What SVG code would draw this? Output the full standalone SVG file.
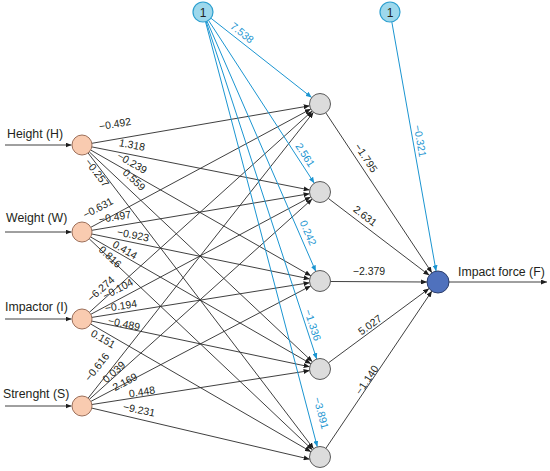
<svg xmlns="http://www.w3.org/2000/svg" width="550" height="471" viewBox="0 0 550 471">
<defs>
<marker id="ab" markerUnits="userSpaceOnUse" viewBox="0 0 6 5" refX="6" refY="2.5" markerWidth="6" markerHeight="5" orient="auto"><path d="M0,0 L6,2.5 L0,5 Z" fill="#1e1e1e"/></marker>
<marker id="au" markerUnits="userSpaceOnUse" viewBox="0 0 6 5" refX="6" refY="2.5" markerWidth="6" markerHeight="5" orient="auto"><path d="M0,0 L6,2.5 L0,5 Z" fill="#1b95d1"/></marker>
<style>
.k{stroke:#2a2a2a;stroke-width:0.9;fill:none;marker-end:url(#ab)}
.b{stroke:#1b95d1;stroke-width:1;fill:none;marker-end:url(#au)}
text{font-family:"Liberation Sans",Arial,sans-serif;fill:#231f20}
.w{font-size:10.5px;text-anchor:middle}
.wb{font-size:10.5px;text-anchor:middle;fill:#1b95d1}
.lab{font-size:12.3px}
.in{fill:#f9cbb0;stroke:#9c6f5a;stroke-width:1}
.hid{fill:#dcdcdc;stroke:#5a5a5a;stroke-width:1}
.out{fill:#4f71bd;stroke:#2c3e6a;stroke-width:1}
.bias{fill:#9dd8ec;stroke:#2c9fcf;stroke-width:1.2}
</style>
</defs>
<g id="connectors">
<line class="k" x1="5" y1="145" x2="71.5" y2="145"/>
<line class="k" x1="5" y1="232" x2="71.5" y2="232"/>
<line class="k" x1="5" y1="319" x2="71.5" y2="319"/>
<line class="k" x1="5" y1="406" x2="71.5" y2="406"/>
<line class="k" x1="91.9" y1="143.3" x2="309.7" y2="105.8"/>
<line class="k" x1="91.8" y1="146.9" x2="309.7" y2="190.0"/>
<line class="k" x1="90.7" y1="150.0" x2="310.9" y2="275.8"/>
<line class="k" x1="89.3" y1="151.9" x2="312.4" y2="361.8"/>
<line class="k" x1="88.1" y1="153.0" x2="313.6" y2="448.7"/>
<line class="k" x1="90.8" y1="227.3" x2="310.8" y2="109.0"/>
<line class="k" x1="91.9" y1="230.3" x2="309.6" y2="193.7"/>
<line class="k" x1="91.8" y1="234.0" x2="309.7" y2="278.9"/>
<line class="k" x1="90.7" y1="237.0" x2="310.9" y2="363.8"/>
<line class="k" x1="89.3" y1="238.9" x2="312.4" y2="449.8"/>
<line class="k" x1="89.4" y1="312.3" x2="312.2" y2="111.0"/>
<line class="k" x1="90.8" y1="314.3" x2="310.7" y2="196.9"/>
<line class="k" x1="91.9" y1="317.4" x2="309.6" y2="282.7"/>
<line class="k" x1="91.8" y1="321.1" x2="309.7" y2="366.8"/>
<line class="k" x1="90.7" y1="324.0" x2="310.9" y2="451.7"/>
<line class="k" x1="88.2" y1="398.1" x2="313.5" y2="112.2"/>
<line class="k" x1="89.4" y1="399.3" x2="312.2" y2="199.0"/>
<line class="k" x1="90.9" y1="401.4" x2="310.7" y2="285.9"/>
<line class="k" x1="91.9" y1="404.5" x2="309.6" y2="370.6"/>
<line class="k" x1="91.8" y1="408.1" x2="309.7" y2="459.2"/>
<line class="b" x1="210.9" y1="18.2" x2="311.7" y2="97.5"/>
<line class="b" x1="208.5" y1="20.4" x2="314.3" y2="183.2"/>
<line class="b" x1="207.0" y1="21.2" x2="315.8" y2="271.4"/>
<line class="b" x1="206.1" y1="21.5" x2="316.7" y2="359.0"/>
<line class="b" x1="205.5" y1="21.7" x2="317.3" y2="446.8"/>
<line class="b" x1="391.8" y1="21.8" x2="436.1" y2="271.2"/>
<line class="k" x1="325.8" y1="112.8" x2="431.9" y2="272.8"/>
<line class="k" x1="328.3" y1="198.4" x2="429.3" y2="275.3"/>
<line class="k" x1="330.5" y1="281.5" x2="427" y2="282"/>
<line class="k" x1="328.5" y1="362.8" x2="429.1" y2="288.5"/>
<line class="k" x1="325.9" y1="448.3" x2="431.9" y2="291.1"/>
<line class="k" x1="449" y1="282" x2="547" y2="282"/>
</g>
<g id="weights">
<text class="w" transform="translate(115,124) rotate(-9.8)" y="3.5">−0.492</text>
<text class="w" transform="translate(132,145) rotate(11.2)" y="3.5">1.318</text>
<text class="w" transform="translate(132,163) rotate(29.7)" y="3.5">−0.239</text>
<text class="w" transform="translate(134,180) rotate(43.3)" y="3.5">0.559</text>
<text class="w" transform="translate(97,173) rotate(52.7)" y="3.5">−0.257</text>
<text class="w" transform="translate(98,208) rotate(-28.3)" y="3.5">−0.631</text>
<text class="w" transform="translate(115,217) rotate(-9.5)" y="3.5">−0.497</text>
<text class="w" transform="translate(133,235) rotate(11.6)" y="3.5">−0.923</text>
<text class="w" transform="translate(125,250) rotate(29.9)" y="3.5">0.414</text>
<text class="w" transform="translate(110,257) rotate(43.4)" y="3.5">0.816</text>
<text class="w" transform="translate(101,289) rotate(-42.1)" y="3.5">−6.274</text>
<text class="w" transform="translate(118,289) rotate(-28.1)" y="3.5">−0.104</text>
<text class="w" transform="translate(121,306) rotate(-9.1)" y="3.5">−0.194</text>
<text class="w" transform="translate(124,324) rotate(11.9)" y="3.5">−0.489</text>
<text class="w" transform="translate(103,339) rotate(30.1)" y="3.5">0.151</text>
<text class="w" transform="translate(97,367) rotate(-51.8)" y="3.5">−0.616</text>
<text class="w" transform="translate(114,372) rotate(-42)" y="3.5">0.039</text>
<text class="w" transform="translate(125,382) rotate(-27.7)" y="3.5">2.169</text>
<text class="w" transform="translate(142,392) rotate(-8.8)" y="3.5">0.448</text>
<text class="w" transform="translate(139,410) rotate(12.1)" y="3.5">−9.231</text>
<text class="wb" transform="translate(242,33) rotate(38.2)" y="3.5">7.538</text>
<text class="wb" transform="translate(305,155) rotate(57)" y="3.5">2.561</text>
<text class="wb" transform="translate(308,233) rotate(66.5)" y="3.5">0.242</text>
<text class="wb" transform="translate(312.5,325) rotate(71.9)" y="3.5">−1.336</text>
<text class="wb" transform="translate(321,413) rotate(75.2)" y="3.5">−3.891</text>
<text class="wb" transform="translate(420,141) rotate(79.9)" y="3.5">−0.321</text>
<text class="w" transform="translate(366,158) rotate(56.4)" y="3.5">−1.795</text>
<text class="w" transform="translate(365,216) rotate(37.3)" y="3.5">2.631</text>
<text class="w" transform="translate(369,271)" y="3.5">−2.379</text>
<text class="w" transform="translate(370,325) rotate(-36.4)" y="3.5">5.027</text>
<text class="w" transform="translate(367,380) rotate(-56)" y="3.5">−1.140</text>
</g>
<g id="input-H"><circle class="in" cx="82" cy="145" r="10"/><text class="lab" x="7" y="138">Height (H)</text></g>
<g id="input-W"><circle class="in" cx="82" cy="232" r="10"/><text class="lab" x="6" y="222">Weight (W)</text></g>
<g id="input-I"><circle class="in" cx="82" cy="319" r="10"/><text class="lab" x="5" y="311">Impactor (I)</text></g>
<g id="input-S"><circle class="in" cx="82" cy="406" r="10"/><text class="lab" x="3" y="398">Strenght (S)</text></g>
<g id="bias1"><circle class="bias" cx="203" cy="12" r="10"/><text x="203" y="16.5" font-size="12" text-anchor="middle">1</text></g>
<g id="bias2"><circle class="bias" cx="390" cy="12" r="10"/><text x="390" y="16.5" font-size="12" text-anchor="middle">1</text></g>
<g id="hidden1"><circle class="hid" cx="320" cy="104" r="10.5"/></g>
<g id="hidden2"><circle class="hid" cx="320" cy="192" r="10.5"/></g>
<g id="hidden3"><circle class="hid" cx="320" cy="281" r="10.5"/></g>
<g id="hidden4"><circle class="hid" cx="320" cy="369" r="10.5"/></g>
<g id="hidden5"><circle class="hid" cx="320" cy="457" r="10.5"/></g>
<g id="output"><circle class="out" cx="438" cy="282" r="11"/><text class="lab" x="458" y="276">Impact force (F)</text></g>
</svg>
